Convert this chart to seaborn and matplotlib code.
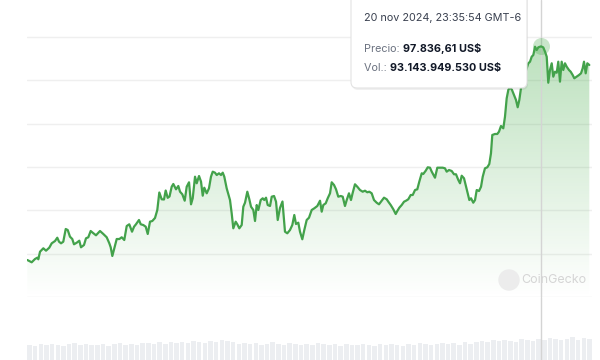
import numpy as np
import pandas as pd
import matplotlib
matplotlib.use('Agg')
import matplotlib.pyplot as plt
import seaborn as sns
from matplotlib.patches import FancyBboxPatch, Circle

# días desde el inicio del periodo (≈ 90 días) y precio en US$
dias = [0.05, 0.75, 1.28, 1.65, 1.81, 2.08, 2.61, 3.04, 3.56, 3.95, 4.48, 4.84, 5.12, 5.44, 5.80,
        6.19, 6.51, 6.87, 7.24, 7.51, 7.95, 8.36, 8.63, 9.11, 9.43, 9.80, 10.18, 10.50, 11.03, 11.67,
        12.20, 12.74, 13.16, 13.38, 13.64, 13.96, 14.34, 14.76, 15.14, 15.55, 15.94, 16.35, 16.79, 17.11,
        17.42, 17.90, 18.18, 18.59, 18.98, 19.30, 19.66, 20.03, 20.46, 20.83, 21.15, 21.53, 21.90, 22.17,
        22.49, 22.78, 23.13, 23.39, 23.82, 24.19, 24.46, 24.83, 25.21, 25.53, 25.90, 26.22, 26.49, 26.86,
        27.13, 27.50, 27.82, 28.09, 28.34, 28.73, 29.09, 29.41, 29.69, 30.05, 30.33, 30.69, 31.01, 31.29,
        31.54, 31.92, 32.45, 32.72, 32.98, 33.36, 33.62, 33.94, 34.32, 34.58, 34.85, 35.22, 35.54, 35.81,
        36.18, 36.45, 36.72, 36.98, 37.36, 37.68, 37.93, 38.21, 38.48, 38.85, 39.12, 39.49, 39.81, 40.08,
        40.44, 40.84, 41.24, 41.61, 42.04, 42.41, 42.73, 43.00, 43.37, 43.64, 44.01, 44.33, 44.71, 45.08,
        45.51, 45.93, 46.41, 46.84, 47.11, 47.37, 47.75, 48.07, 48.44, 48.71, 49.08, 49.40, 49.76, 50.15,
        50.47, 50.83, 51.11, 51.47, 51.79, 52.07, 52.43, 52.80, 53.23, 53.66, 54.03, 54.40, 54.72, 55.10,
        55.47, 55.90, 56.27, 56.70, 57.07, 57.50, 57.76, 58.14, 58.56, 58.94, 59.20, 59.52, 59.90, 60.27,
        60.59, 60.95, 61.34, 61.66, 62.03, 62.39, 62.71, 63.10, 63.35, 63.74, 64.06, 64.42, 64.70, 65.22,
        65.59, 66.02, 66.45, 66.82, 67.09, 67.46, 67.89, 68.26, 68.58, 68.95, 69.22, 69.49, 69.86, 70.13,
        70.45, 70.71, 70.98, 71.34, 71.62, 71.89, 72.26, 72.58, 72.85, 73.21, 73.58, 73.90, 74.17, 74.38,
        74.81, 75.18, 75.45, 75.77, 76.14, 76.41, 76.68, 76.94, 77.21, 77.53, 77.85, 78.17, 78.44, 78.70,
        78.97, 79.34, 79.69, 80.14, 80.41, 80.68, 80.94, 81.21, 81.48, 81.74, 82.17, 82.53, 82.81, 83.08,
        83.33, 83.60, 83.88, 84.13, 84.40, 84.68, 84.93, 85.20, 85.47, 85.73, 86.00, 86.27, 86.64, 86.91,
        87.23, 87.49, 87.87, 88.24, 88.56, 88.83, 89.04, 89.31, 89.57, 89.89]

precio = [48540, 48010, 48770, 49070, 48700, 50450, 51240, 50690, 51380, 52390, 52920, 53680, 52760, 52390, 52760,
          55690, 55460, 53920, 53380, 52160, 52530, 52990, 51470, 52000, 53550, 53780, 55230, 54840, 54240, 55230,
          54540, 53780, 52390, 51470, 49460, 51240, 53380, 53380, 53780, 53150, 56380, 56780, 55070, 56220,
          56780, 57770, 56780, 56610, 56220, 54540, 57380, 57540, 58230, 60080, 64120, 62550, 62500, 64580,
          62890, 63190, 65450, 66080, 64850, 65620, 64300, 63700, 62220, 65450, 66470, 61390, 62780, 67760,
          66240, 67920, 66610, 63380, 65220, 63930, 65080, 67760, 68920, 68690, 68150, 68550, 68150, 68690,
          67760, 65080, 62380, 59320, 55850, 57380, 56780, 55850, 56610, 60840, 61760, 64300, 62550, 60840,
          60080, 57540, 61230, 60080, 62380, 62780, 62380, 62920, 61230, 61000, 63150, 63310, 61990, 57770,
          60540, 62040, 55070, 54700, 55460, 56610, 58920, 56850, 57150, 55070, 53320, 55460, 57770, 58300,
          60080, 60470, 61000, 62220, 59690, 61230, 61620, 62780, 63930, 66470, 65850, 64850, 63150, 63310,
          63150, 61000, 62380, 63930, 62380, 64070, 66010, 65450, 64690, 64300, 64530, 64160, 64300, 63930,
          62380, 61760, 61390, 62220, 62920, 62550, 61990, 61230, 60240, 59150, 59850, 60610, 61230, 61990,
          62220, 62550, 63540, 63540, 64690, 64850, 66610, 68550, 68390, 69150, 69930, 69840, 68920, 67530,
          69840, 69840, 69840, 69700, 68920, 69310, 69080, 68320, 68320, 67000, 66240, 67990, 67390, 65850,
          63930, 62380, 62780, 61760, 62380, 64690, 64460, 65450, 67760, 69700, 69930, 70690, 73160, 77390,
          77620, 77620, 78150, 79460, 78930, 81610, 85850, 87770, 88460, 87770, 86620, 85460, 83780, 85460,
          88230, 89620, 91920, 93930, 94300, 95450, 95850, 97760, 97000, 97620, 97836.61, 97600, 96610, 95450,
          89450, 92380, 93930, 90840, 91990, 91760, 94300, 89690, 94300, 92380, 93930, 93150, 92380, 91990,
          91230, 90470, 90840, 91230, 91620, 92780, 94300, 91620, 93930, 93540]

# volumen (miles de millones de US$), barras de abajo
volumen = [48, 46, 50, 47, 52, 49, 45, 51, 53, 48, 50, 47, 49, 52, 46, 50, 54, 48, 51, 49,
           53, 55, 50, 57, 52, 56, 54, 58, 53, 60, 57, 55, 61, 58, 63, 60, 56, 52, 55, 50,
           53, 49, 51, 56, 52, 48, 54, 50, 47, 52, 49, 55, 51, 48, 50, 46, 52, 49, 47, 51,
           48, 45, 50, 47, 52, 49, 46, 51, 48, 53, 50, 47, 52, 55, 50, 53, 49, 56, 52, 58,
           60, 57, 62, 59, 64, 61, 58, 66, 63, 60, 67, 64, 70, 66, 62, 68, 72, 65, 70, 68]

hover_dia = 82.17
hover_precio = 97836.61
hover_texto = "20 nov 2024, 23:35:54 GMT-6"
precio_txt = "97.836,61 US$"
vol_txt = "93.143.949.530 US$"

verde = '#43a24b'

sns.set_theme(style='white')
plt.rcParams['font.family'] = ['Inter', 'DejaVu Sans']

W, H = 600, 360
fig = plt.figure(figsize=(6, 3.6), dpi=100)
fig.patch.set_facecolor('white')


def ejes_px(x0, y0, x1, y1):
    return fig.add_axes([x0 / W, 1 - y1 / H, (x1 - x0) / W, (y1 - y0) / H])


ax_vol = ejes_px(27, 297, 592, 360)
ax = ejes_px(27, 0, 592, 297)
x_max = 565 / 6.2556
y_min = 40000
y_max = 40000 + 297 * 230.77

# volumen
pos_vol = np.linspace(0.4, x_max - 0.4, len(volumen))
ax_vol.bar(pos_vol, volumen, width=(pos_vol[1] - pos_vol[0]) * 0.8, color='#eceef1', linewidth=0)
ax_vol.set_xlim(0, x_max)
ax_vol.set_ylim(0, 200)
ax_vol.axvline(hover_dia, color='#d4d4d4', lw=1)
ax_vol.axis('off')

df = pd.DataFrame({'dia': dias, 'precio': precio})

# relleno degradado bajo la línea
rgb = matplotlib.colors.to_rgb('#4caf50')
img = np.zeros((256, 1, 4))
img[..., 0], img[..., 1], img[..., 2] = rgb
img[:, 0, 3] = np.linspace(0.38, 0.0, 256)
poly = ax.fill_between(df['dia'], df['precio'], y_min, color='none', lw=0)
im = ax.imshow(img, aspect='auto', extent=[0, x_max, y_min, 99000], origin='upper', zorder=1)
im.set_clip_path(poly.get_paths()[0], transform=ax.transData)

sns.lineplot(data=df, x='dia', y='precio', color=verde, lw=1.6, ax=ax, zorder=3, sort=False)

ax.set_xlim(0, x_max)
ax.set_ylim(y_min, y_max)
ax.set_yticks(range(40000, 100001, 10000))
ax.grid(axis='y', color='#efefef', lw=1)
ax.grid(axis='x', visible=False)
ax.tick_params(left=False, bottom=False, labelleft=False, labelbottom=False)
ax.set_xlabel('')
ax.set_ylabel('')
for s in ax.spines.values():
    s.set_visible(False)
ax.patch.set_alpha(0)

ax.axvline(hover_dia, color='#d4d4d4', lw=1, zorder=2)
ax.scatter([hover_dia], [hover_precio], s=150, color='#4caf50', alpha=0.3, lw=0, zorder=4)

# capa superior en píxeles para marca de agua y tooltip
top = fig.add_axes([0, 0, 1, 1], zorder=20)
top.set_xlim(0, W)
top.set_ylim(H, 0)
top.axis('off')
top.patch.set_alpha(0)

top.add_patch(Circle((509, 280), 10, color='#ececec'))
top.text(521, 280, 'CoinGecko', color='#d5d5d5', fontsize=9, va='center', ha='left')

top.add_patch(FancyBboxPatch((352, -12), 176, 102, boxstyle='round,pad=0,rounding_size=6',
                             fc='#000000', ec='none', alpha=0.06))
top.add_patch(FancyBboxPatch((351, -12), 176, 100, boxstyle='round,pad=0,rounding_size=6',
                             fc='white', ec='#e3e3e3', lw=0.8))

top.text(364, 18, hover_texto, color='#3a4150', fontsize=7.8, va='center')
t1 = top.text(364, 49, 'Precio: ', color='#6b7280', fontsize=7.8, va='center')
top.annotate(precio_txt, xy=(1, 0), xycoords=t1, va='bottom', ha='left', fontsize=7.8,
             fontweight='bold', color='#111827', annotation_clip=False)
t2 = top.text(364, 68, 'Vol.: ', color='#6b7280', fontsize=7.8, va='center')
top.annotate(vol_txt, xy=(1, 0), xycoords=t2, va='bottom', ha='left', fontsize=7.8,
             fontweight='bold', color='#111827', annotation_clip=False)

fig.savefig('out.png', dpi=100)
